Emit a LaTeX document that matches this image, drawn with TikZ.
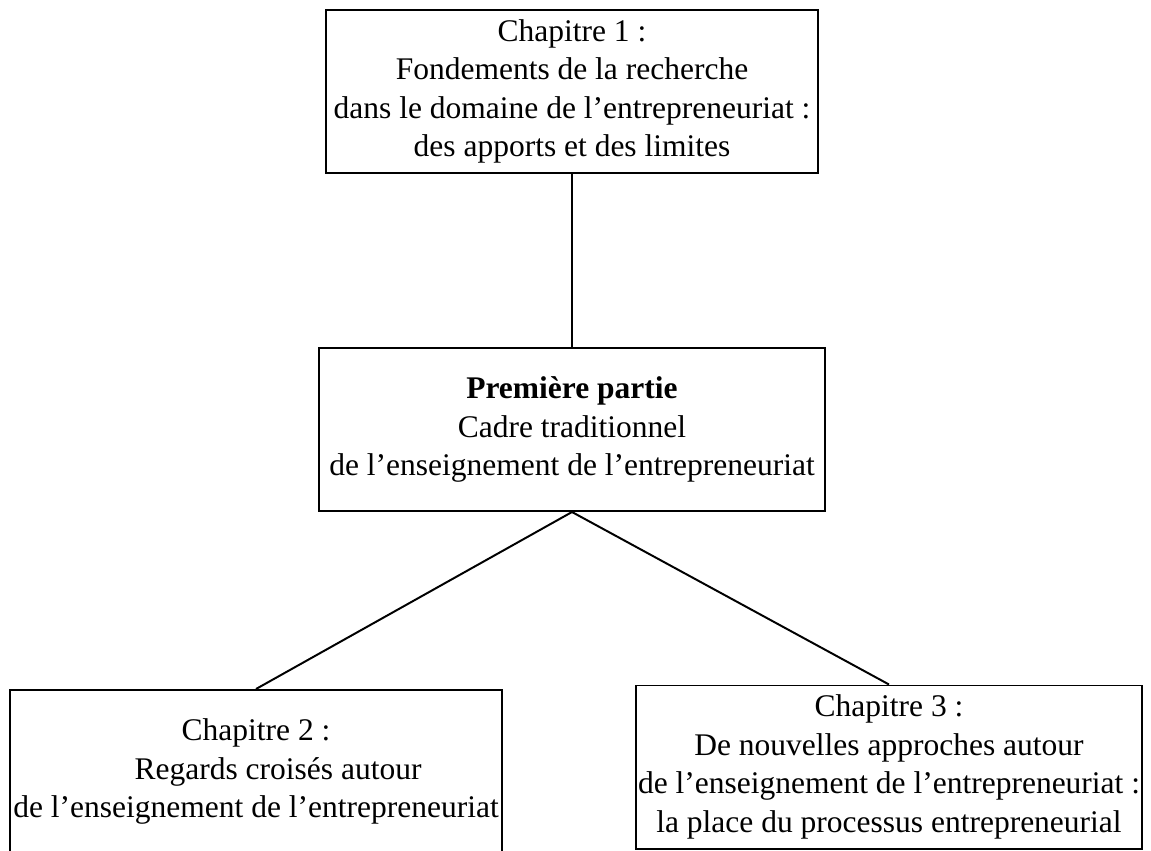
\documentclass[tikz,border=0pt]{standalone}
\usepackage{fontspec}
\setmainfont{Liberation Serif}

\tikzset{
  chapbox/.style={draw, line width=0.7pt, rectangle, inner sep=0pt, align=center,
    font=\fontsize{11.2pt}{13.7pt}\selectfont, minimum height=2.0375cm},
  link/.style={line width=0.7pt}
}

\begin{document}
\begin{tikzpicture}[x=0.0125cm,y=-0.0125cm]
			%%%%% START %%%%%
			\clip (0,0) rectangle (1151,851);
			
			\node[chapbox, minimum width=6.15cm] (chap1) at (572,91.5)
			{Chapitre 1 :\\Fondements de la recherche\\dans le domaine de l’entrepreneuriat :\\des apports et des limites};
			
			\node[chapbox, minimum width=6.325cm] (partie1) at (572,429.5)
			{\textbf{Première partie}\\Cadre traditionnel\\de l’enseignement de l’entrepreneuriat};
			
			\node[chapbox, minimum width=6.15cm] (chap2) at (256,771.5)
			{Chapitre 2 :\\\hspace*{1.4em}Regards croisés autour\\de l’enseignement de l’entrepreneuriat};
			
			\node[chapbox, minimum width=6.3125cm] (chap3) at (889,767)
			{Chapitre 3 :\\De nouvelles approches autour\\de l’enseignement de l’entrepreneuriat :\\la place du processus entrepreneurial};
			
			\draw[link] (chap1.south) -- (partie1.north);
			\draw[link] (partie1.south) -- (chap2.north);
			\draw[link] (partie1.south) -- (chap3.north);
			%%%%% END %%%%%
\end{tikzpicture}
\end{document}
